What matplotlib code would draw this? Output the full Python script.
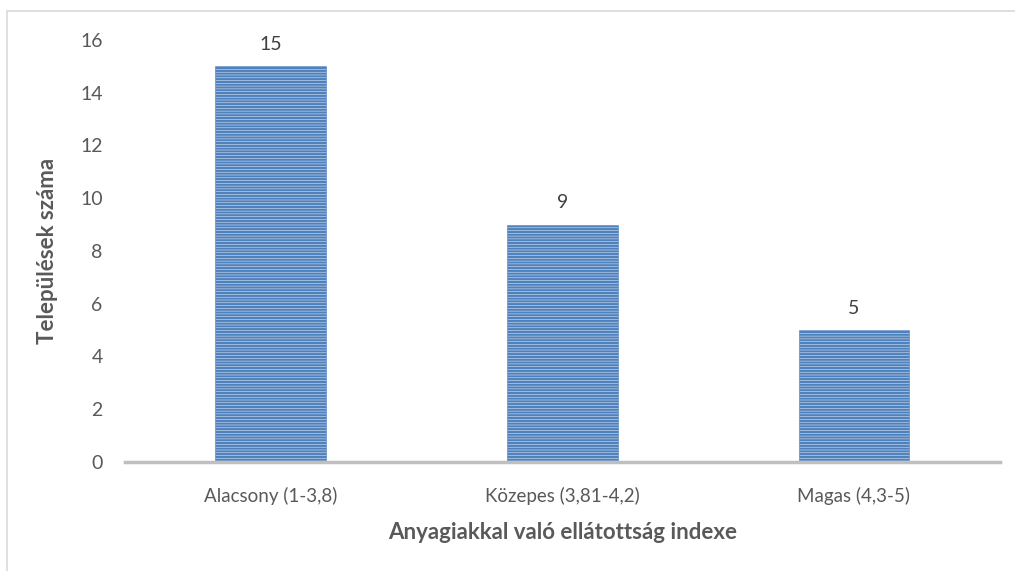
import matplotlib
matplotlib.use("Agg")
import matplotlib.pyplot as plt
from matplotlib.patches import Rectangle

categories = ["Alacsony (1-3,8)", "Közepes (3,81-4,2)", "Magas (4,3-5)"]
values = [15, 9, 5]
yticks = [0, 2, 4, 6, 8, 10, 12, 14, 16]

plt.rcParams['font.family'] = ['Lato', 'DejaVu Sans']
plt.rcParams['hatch.linewidth'] = 1.6
grey = '#595959'

fig = plt.figure(figsize=(10.15, 5.71), dpi=100)
ax = fig.add_axes([0.123, 0.191, 0.862, 0.739])

# light frame round the chart area
fig.patches.append(Rectangle((0.007, -0.05), 1.2, 1.031, transform=fig.transFigure,
                             fill=False, edgecolor='#d9d9d9', linewidth=1.2))

x = range(len(categories))
bars = ax.bar(x, values, width=0.38, color='#dbe5f4', edgecolor='#4f81bd',
              hatch='------', linewidth=0.4)

for b, v in zip(bars, values):
    ax.text(b.get_x() + b.get_width() / 2, v + 0.5, str(v), ha='center', va='bottom',
            fontsize=14, color='#404040')

ax.set_xlim(-0.5, 2.5)
ax.set_ylim(0, 16)
ax.set_yticks(yticks)
ax.set_xticks(list(x))
ax.set_xticklabels(categories, fontsize=13.5)
ax.tick_params(axis='y', length=0, labelsize=14, labelcolor=grey, pad=16)
ax.tick_params(axis='x', length=0, labelcolor=grey, pad=18)

for s in ['top', 'right', 'left']:
    ax.spines[s].set_visible(False)
ax.spines['bottom'].set_color('#bfbfbf')
ax.spines['bottom'].set_linewidth(2.5)

ax.set_ylabel("Települések száma", fontsize=16, fontweight='bold', color=grey, labelpad=16)
ax.set_xlabel("Anyagiakkal való ellátottság indexe", fontsize=16, fontweight='bold', color=grey, labelpad=12)

fig.savefig("out.png", dpi=100)
